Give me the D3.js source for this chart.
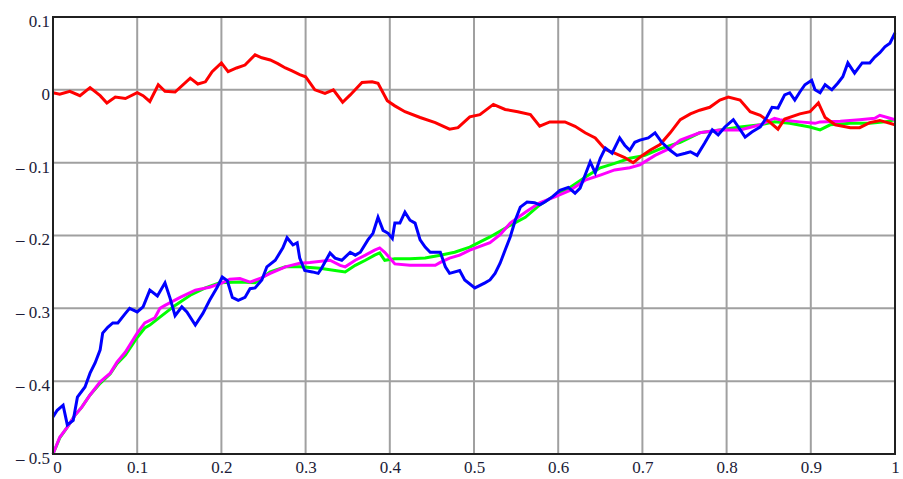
<!DOCTYPE html>
<html>
<head>
<meta charset="utf-8">
<script src="https://cdn.jsdelivr.net/npm/d3@7"></script>
<style>
  html, body { margin: 0; padding: 0; background: #fff; }
  svg { display: block; }
  .tick text { font-family: "Liberation Serif", "Times New Roman", serif; font-size: 17px; fill: #1c1c38; }
</style>
</head>
<body>
<svg id="chart" width="903" height="479"></svg>
<script>
// ticks
const xTicks = [0, 0.1, 0.2, 0.3, 0.4, 0.5, 0.6, 0.7, 0.8, 0.9, 1];
const yTicks = [0.1, 0, -0.1, -0.2, -0.3, -0.4, -0.5];

// series as [x, y]
const red = [
  [0, -0.004], [0.008, -0.006], [0.020, -0.002], [0.032, -0.008], [0.044, 0.003], [0.056, -0.008],
  [0.064, -0.018], [0.074, -0.010], [0.086, -0.012], [0.100, -0.004], [0.107, -0.008], [0.115, -0.016],
  [0.125, 0.007], [0.133, -0.002], [0.145, -0.003], [0.163, 0.016], [0.172, 0.008], [0.181, 0.011],
  [0.189, 0.025], [0.200, 0.037], [0.208, 0.025], [0.218, 0.030], [0.228, 0.034], [0.240, 0.048],
  [0.248, 0.044], [0.258, 0.041], [0.267, 0.036], [0.276, 0.030], [0.284, 0.026], [0.293, 0.021],
  [0.300, 0.018], [0.305, 0.010], [0.311, 0.000], [0.323, -0.005], [0.333, 0.000], [0.344, -0.017],
  [0.353, -0.007], [0.367, 0.010], [0.379, 0.011], [0.386, 0.009], [0.397, -0.015], [0.406, -0.022],
  [0.418, -0.030], [0.436, -0.038], [0.454, -0.045], [0.471, -0.054], [0.481, -0.052], [0.495, -0.037],
  [0.507, -0.034], [0.523, -0.020], [0.537, -0.027], [0.552, -0.030], [0.567, -0.034], [0.578, -0.050],
  [0.590, -0.044], [0.608, -0.044], [0.620, -0.050], [0.632, -0.059], [0.644, -0.066], [0.656, -0.082],
  [0.667, -0.087], [0.679, -0.093], [0.689, -0.100], [0.700, -0.090], [0.709, -0.083], [0.721, -0.075],
  [0.733, -0.059], [0.745, -0.041], [0.757, -0.033], [0.768, -0.028], [0.780, -0.024], [0.792, -0.014],
  [0.802, -0.010], [0.816, -0.014], [0.828, -0.030], [0.840, -0.035], [0.852, -0.045], [0.861, -0.054],
  [0.869, -0.040], [0.887, -0.033], [0.899, -0.030], [0.909, -0.018], [0.917, -0.038], [0.929, -0.048],
  [0.947, -0.052], [0.958, -0.052], [0.970, -0.045], [0.982, -0.042], [0.988, -0.044], [1, -0.048]
];

const blue = [
  [0, -0.449], [0.005, -0.440], [0.012, -0.433], [0.017, -0.460], [0.024, -0.454], [0.029, -0.422],
  [0.038, -0.408], [0.044, -0.389], [0.050, -0.375], [0.056, -0.357], [0.059, -0.334], [0.065, -0.326],
  [0.071, -0.320], [0.077, -0.320], [0.086, -0.307], [0.091, -0.300], [0.100, -0.305], [0.107, -0.298],
  [0.115, -0.275], [0.124, -0.283], [0.133, -0.265], [0.139, -0.286], [0.145, -0.310], [0.153, -0.298],
  [0.159, -0.305], [0.169, -0.323], [0.178, -0.307], [0.186, -0.289], [0.195, -0.271], [0.201, -0.257],
  [0.207, -0.262], [0.213, -0.285], [0.220, -0.289], [0.228, -0.285], [0.234, -0.273], [0.240, -0.272],
  [0.248, -0.261], [0.254, -0.243], [0.264, -0.234], [0.273, -0.217], [0.278, -0.203], [0.285, -0.213],
  [0.290, -0.210], [0.293, -0.231], [0.299, -0.248], [0.308, -0.250], [0.315, -0.252], [0.319, -0.245],
  [0.329, -0.224], [0.335, -0.231], [0.343, -0.234], [0.353, -0.223], [0.359, -0.227], [0.365, -0.223],
  [0.374, -0.206], [0.380, -0.197], [0.386, -0.175], [0.392, -0.193], [0.398, -0.197], [0.403, -0.204],
  [0.406, -0.183], [0.412, -0.183], [0.418, -0.168], [0.424, -0.179], [0.430, -0.183], [0.436, -0.206],
  [0.442, -0.216], [0.448, -0.223], [0.460, -0.223], [0.466, -0.243], [0.471, -0.252], [0.483, -0.248],
  [0.489, -0.261], [0.501, -0.272], [0.513, -0.265], [0.519, -0.261], [0.525, -0.252], [0.531, -0.238],
  [0.537, -0.220], [0.543, -0.202], [0.549, -0.179], [0.555, -0.161], [0.563, -0.154], [0.572, -0.155],
  [0.578, -0.158], [0.584, -0.154], [0.593, -0.147], [0.602, -0.138], [0.612, -0.134], [0.620, -0.142],
  [0.626, -0.135], [0.632, -0.117], [0.638, -0.099], [0.644, -0.114], [0.650, -0.094], [0.656, -0.080],
  [0.664, -0.087], [0.673, -0.066], [0.679, -0.076], [0.685, -0.083], [0.691, -0.072], [0.697, -0.069],
  [0.707, -0.066], [0.715, -0.059], [0.723, -0.072], [0.733, -0.083], [0.741, -0.090], [0.751, -0.087],
  [0.757, -0.085], [0.765, -0.090], [0.774, -0.073], [0.783, -0.055], [0.790, -0.062], [0.798, -0.051],
  [0.808, -0.041], [0.814, -0.051], [0.822, -0.065], [0.830, -0.058], [0.840, -0.051], [0.848, -0.037],
  [0.854, -0.024], [0.861, -0.025], [0.869, -0.007], [0.875, -0.004], [0.881, -0.014], [0.887, -0.003],
  [0.893, 0.007], [0.901, 0.013], [0.905, 0.000], [0.911, -0.004], [0.917, 0.007], [0.925, 0.000],
  [0.932, 0.009], [0.938, 0.018], [0.944, 0.037], [0.952, 0.023], [0.961, 0.037], [0.970, 0.037],
  [0.976, 0.045], [0.982, 0.051], [0.988, 0.059], [0.994, 0.064], [1, 0.078]
];

const green = [
  [0, -0.500], [0.008, -0.478], [0.017, -0.463], [0.026, -0.447], [0.034, -0.436], [0.044, -0.419],
  [0.056, -0.403], [0.068, -0.390], [0.076, -0.376], [0.086, -0.364], [0.100, -0.340], [0.109, -0.327],
  [0.115, -0.323], [0.127, -0.312], [0.145, -0.296], [0.163, -0.282], [0.181, -0.272], [0.198, -0.265],
  [0.222, -0.264], [0.240, -0.265], [0.258, -0.250], [0.276, -0.243], [0.293, -0.243], [0.317, -0.245],
  [0.335, -0.248], [0.347, -0.250], [0.359, -0.241], [0.371, -0.234], [0.382, -0.227], [0.388, -0.224],
  [0.394, -0.234], [0.406, -0.232], [0.424, -0.232], [0.442, -0.231], [0.460, -0.227], [0.477, -0.223],
  [0.495, -0.216], [0.519, -0.202], [0.543, -0.186], [0.561, -0.175], [0.578, -0.158], [0.596, -0.145],
  [0.614, -0.134], [0.632, -0.120], [0.650, -0.107], [0.667, -0.101], [0.685, -0.094], [0.703, -0.090],
  [0.721, -0.081], [0.745, -0.072], [0.768, -0.059], [0.792, -0.055], [0.816, -0.051], [0.840, -0.048],
  [0.857, -0.044], [0.875, -0.046], [0.899, -0.051], [0.911, -0.055], [0.923, -0.048], [0.947, -0.046],
  [0.970, -0.046], [0.988, -0.044], [1, -0.041]
];

const magenta = [
  [0, -0.500], [0.008, -0.477], [0.017, -0.463], [0.026, -0.447], [0.034, -0.436], [0.044, -0.419],
  [0.056, -0.401], [0.068, -0.389], [0.076, -0.374], [0.086, -0.360], [0.100, -0.334], [0.109, -0.320],
  [0.121, -0.313], [0.127, -0.300], [0.133, -0.296], [0.151, -0.285], [0.169, -0.275], [0.186, -0.271],
  [0.201, -0.265], [0.210, -0.260], [0.222, -0.259], [0.234, -0.264], [0.246, -0.259], [0.258, -0.252],
  [0.276, -0.243], [0.293, -0.238], [0.305, -0.237], [0.329, -0.234], [0.341, -0.241], [0.347, -0.243],
  [0.359, -0.234], [0.371, -0.227], [0.382, -0.220], [0.388, -0.217], [0.394, -0.223], [0.400, -0.231],
  [0.406, -0.239], [0.424, -0.241], [0.442, -0.241], [0.454, -0.241], [0.460, -0.237], [0.471, -0.231],
  [0.483, -0.227], [0.495, -0.220], [0.519, -0.210], [0.531, -0.199], [0.543, -0.183], [0.561, -0.168],
  [0.578, -0.155], [0.596, -0.147], [0.614, -0.138], [0.632, -0.124], [0.650, -0.117], [0.667, -0.110],
  [0.685, -0.107], [0.697, -0.103], [0.715, -0.090], [0.733, -0.080], [0.745, -0.069], [0.768, -0.059],
  [0.792, -0.055], [0.816, -0.055], [0.840, -0.048], [0.857, -0.039], [0.863, -0.041], [0.887, -0.044],
  [0.905, -0.046], [0.911, -0.044], [0.935, -0.043], [0.958, -0.041], [0.976, -0.039], [0.982, -0.035],
  [0.994, -0.039], [1, -0.041]
];

const series = [
  { data: green, color: '#00ff00' },
  { data: magenta, color: '#ff00ff' },
  { data: red, color: '#ff0000' },
  { data: blue, color: '#0000ff' }
];

const svg = d3.select('#chart');
const margin = { top: 17, right: 8, bottom: 25, left: 53 };
const width = 903 - margin.left - margin.right;
const height = 479 - margin.top - margin.bottom;

const x = d3.scaleLinear().domain([0, 1]).range([0, width]);
const y = d3.scaleLinear().domain([-0.5, 0.1]).range([height, 0]);

const g = svg.append('g').attr('transform', `translate(${margin.left},${margin.top})`);

// grid
g.append('g')
  .selectAll('line')
  .data(xTicks.slice(1, -1))
  .join('line')
    .attr('x1', d => x(d)).attr('x2', d => x(d))
    .attr('y1', 0).attr('y2', height)
    .attr('stroke', '#a0a0a0').attr('stroke-width', 2);
g.append('g')
  .selectAll('line')
  .data(yTicks.slice(1, -1))
  .join('line')
    .attr('x1', 0).attr('x2', width)
    .attr('y1', d => y(d)).attr('y2', d => y(d))
    .attr('stroke', '#a0a0a0').attr('stroke-width', 2);

// lines
const line = d3.line().x(d => x(d[0])).y(d => y(d[1]));
g.append('g')
  .selectAll('path')
  .data(series)
  .join('path')
    .attr('fill', 'none')
    .attr('stroke', d => d.color)
    .attr('stroke-width', 3)
    .attr('stroke-linejoin', 'miter')
    .attr('d', d => line(d.data));

// frame
g.append('rect')
  .attr('x', 0).attr('y', 0)
  .attr('width', width).attr('height', height)
  .attr('fill', 'none').attr('stroke', '#202020').attr('stroke-width', 2);

// axes labels
const fmt = d => d < 0 ? '\u2013 ' + d3.format('')(-d) : d3.format('')(d);
const xAxis = g.append('g')
  .attr('transform', `translate(0,${height})`)
  .call(d3.axisBottom(x).tickValues(xTicks).tickSize(0).tickPadding(7).tickFormat(fmt));
xAxis.select('.domain').remove();
xAxis.selectAll('.tick').filter(d => d === 0).select('text').attr('dx', 4);

const yAxis = g.append('g')
  .call(d3.axisLeft(y).tickValues(yTicks).tickSize(0).tickPadding(3).tickFormat(fmt));
yAxis.select('.domain').remove();
yAxis.selectAll('.tick text').attr('dy', '0.55em');
</script>
</body>
</html>
